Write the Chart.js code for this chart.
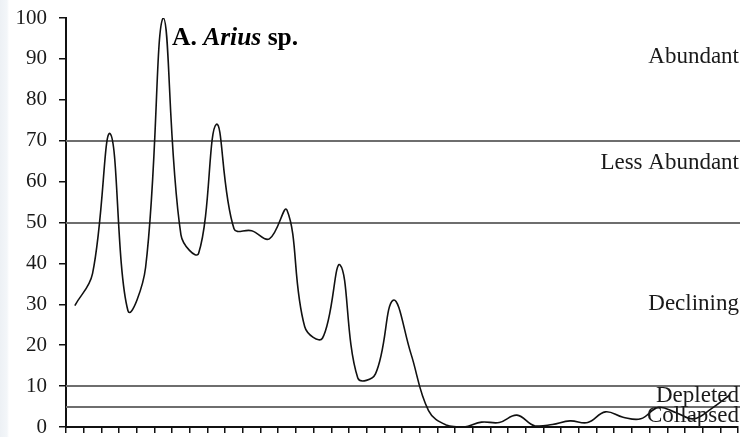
<!DOCTYPE html>
<html>
<head>
<meta charset="utf-8">
<script src="https://cdn.jsdelivr.net/npm/chart.js@4/dist/chart.umd.min.js"></script>
<style>
  html, body { margin: 0; padding: 0; }
  body {
    width: 745px; height: 437px; overflow: hidden;
    background: linear-gradient(to right, #edf1f5 0px, #f3f6f9 7px, #ffffff 9px);
  }
  #wrap { position: relative; width: 745px; height: 437px; }
</style>
</head>
<body>
<div id="wrap"><canvas id="chart"></canvas></div>
<script>
// Sampling periods along the x axis (unlabelled on the axis)
const periods = ['1','2','3','4','5','6','7','8','9','10','11','12','13','14','15','16','17','18','19',
                 '20','21','22','23','24','25','26','27','28','29','30','31','32','33','34','35','36','37','38'];

// Relative abundance index of Arius sp. (% of maximum)
const abundance = [29.7, 37.5, 71.7, 28.5, 39, 100, 47, 42.5, 74, 48.5,
                   48, 46, 53, 24.5, 21.7, 39.6, 12, 13, 31, 18,
                   4, 0.5, 0, 1.2, 1.1, 2.9, 0.3, 0.6, 1.5, 1.1,
                   3.7, 2.4, 2, 4.8, 3.5, 2, 4.5, 7.7];

// Y axis tick values
const yTicks = [0, 10, 20, 30, 40, 50, 60, 70, 80, 90, 100];

// Status class boundaries and class names
const statusBounds = [70, 50, 10, 5];
const statusNames = ['Abundant', 'Less Abundant', 'Declining', 'Depleted', 'Collapsed'];

const SERIF = '"Liberation Serif", "Times New Roman", Times, serif';

// Boundary lines, class names and the panel heading
const statusPlugin = {
  id: 'statusZones',
  beforeDatasetsDraw(chart) {
    const { ctx, chartArea: a, scales: { y } } = chart;
    ctx.save();
    ctx.strokeStyle = '#6e6e6e';
    ctx.lineWidth = 2;
    statusBounds.forEach(v => {
      const py = Math.round(y.getPixelForValue(v));
      ctx.beginPath();
      ctx.moveTo(a.left, py);
      ctx.lineTo(a.right + 2, py);
      ctx.stroke();
    });
    ctx.restore();
  },
  afterDatasetsDraw(chart, args, opts) {
    const { ctx, chartArea: a, scales: { y } } = chart;
    ctx.save();
    ctx.fillStyle = '#1a1a1a';
    ctx.font = '23px ' + SERIF;
    ctx.textAlign = 'right';
    ctx.textBaseline = 'middle';
    statusNames.forEach((name, i) => {
      ctx.fillText(name, a.right + 1, y.getPixelForValue(opts.labelAt[i]));
    });

    // heading: "A. Arius sp." with the genus in italics
    ctx.fillStyle = '#000';
    ctx.textAlign = 'left';
    ctx.textBaseline = 'alphabetic';
    let x = a.left + 106;
    const base = a.top + 27;
    const parts = [['bold ', 'A. '], ['italic bold ', 'Arius'], ['bold ', ' sp.']];
    parts.forEach(([style, txt]) => {
      ctx.font = style + '25.5px ' + SERIF;
      ctx.fillText(txt, x, base);
      x += ctx.measureText(txt).width;
    });
    ctx.restore();
  }
};

new Chart(document.getElementById('chart'), {
  type: 'line',
  data: {
    labels: periods,
    datasets: [{
      data: abundance,
      borderColor: '#111',
      borderWidth: 1.6,
      pointRadius: 0,
      tension: 0.4,
      fill: false
    }]
  },
  options: {
    responsive: true,
    maintainAspectRatio: false,
    animation: false,
    layout: { padding: { top: 18, right: 7, bottom: 4, left: 0 } },
    plugins: {
      legend: { display: false },
      tooltip: { enabled: false },
      statusZones: { labelAt: [90.4, 64.5, 30.0, 7.5, 2.7] }
    },
    scales: {
      x: {
        type: 'category',
        offset: true,
        afterFit(scale) { scale.height = 6; scale.paddingLeft = 0; scale.paddingRight = 0; },
        grid: { offset: true, drawOnChartArea: false, drawTicks: true, tickLength: 6, color: '#111', lineWidth: 1.5 },
        border: { color: '#111', width: 2 },
        ticks: { display: false }
      },
      y: {
        min: 0,
        max: 100,
        afterBuildTicks(scale) { scale.ticks = yTicks.map(v => ({ value: v })); },
        afterFit(scale) { scale.width = 66; scale.paddingTop = 0; scale.paddingBottom = 0; },
        ticks: { padding: 12, color: '#1a1a1a', font: { family: SERIF, size: 21 } },
        grid: { drawOnChartArea: false, drawTicks: true, tickLength: 7, color: '#111', lineWidth: 1.5 },
        border: { color: '#111', width: 2 }
      }
    }
  },
  plugins: [statusPlugin]
});
</script>
</body>
</html>
